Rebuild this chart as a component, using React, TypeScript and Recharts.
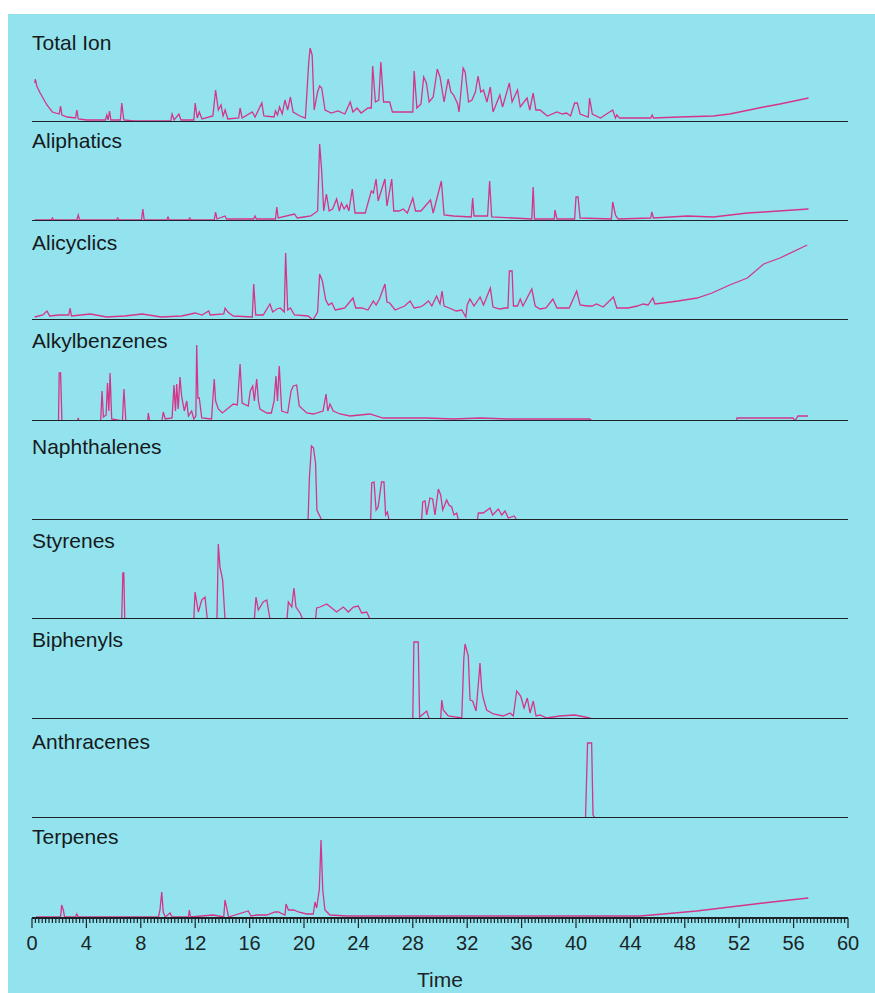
import { Line, LineChart, ReferenceLine, XAxis, YAxis } from "recharts";

// retention time (min), relative abundance
const totalIon: [number, number][] = [
  [0.2, 39], [0.25, 43], [0.35, 36], [0.6, 29], [1.1, 17], [1.5, 10], [2.0, 8], [2.1, 16], [2.2, 7], [2.6, 5], [3.2, 4], [3.3, 12], [3.4, 3],
  [4.0, 2], [5.4, 2], [5.5, 7], [5.6, 2], [5.7, 11], [5.8, 2], [6.5, 2], [6.6, 19], [6.75, 2], [7.5, 1], [10.2, 1], [10.3, 8], [10.45, 2],
  [10.8, 8], [10.95, 2], [11.9, 2], [12.0, 19], [12.15, 4], [12.3, 10], [12.5, 3], [13.3, 6], [13.5, 32], [13.7, 12], [13.9, 17], [14.05, 6],
  [14.2, 12], [14.4, 3], [15.2, 4], [15.3, 14], [15.45, 4], [16.2, 10], [16.4, 5], [16.9, 19], [17.05, 6], [17.8, 5], [17.9, 11], [18.05, 7],
  [18.2, 15], [18.4, 8], [18.6, 22], [18.8, 12], [19.0, 25], [19.2, 10], [19.7, 6], [20.1, 4], [20.35, 60], [20.45, 74], [20.6, 67], [20.75, 12],
  [21.0, 30], [21.15, 36], [21.3, 34], [21.55, 12], [22.0, 9], [22.5, 11], [23.0, 8], [23.4, 20], [23.6, 10], [23.9, 14], [24.2, 9], [24.7, 14],
  [24.95, 14], [25.05, 56], [25.25, 20], [25.5, 22], [25.65, 60], [25.85, 20], [26.3, 20], [26.5, 10], [27.4, 10], [28.0, 10], [28.1, 51],
  [28.3, 14], [28.6, 18], [28.8, 45], [29.0, 39], [29.2, 20], [29.5, 25], [29.8, 53], [30.0, 45], [30.3, 20], [30.6, 43], [30.8, 30], [31.0, 27],
  [31.3, 18], [31.4, 10], [31.7, 54], [31.85, 50], [32.1, 20], [32.35, 22], [32.6, 30], [32.8, 46], [33.0, 30], [33.2, 32], [33.45, 20],
  [33.7, 35], [33.9, 10], [34.4, 27], [34.6, 15], [35.1, 39], [35.3, 20], [35.7, 32], [35.9, 15], [36.4, 24], [36.6, 12], [36.85, 29],
  [37.05, 12], [37.35, 12], [37.9, 6], [38.6, 10], [39.0, 8], [39.3, 9], [39.6, 6], [39.9, 19], [40.1, 19], [40.3, 8], [40.9, 5], [41.0, 24],
  [41.2, 8], [41.8, 4], [42.7, 12], [42.9, 4], [43.0, 7], [43.2, 4], [45.5, 4], [45.6, 7], [45.7, 4], [47.6, 5], [50.1, 6], [51.3, 8],
  [53.8, 15], [55.0, 18], [57.1, 24],
];

const aliphatics: [number, number][] = [
  [0.2, 1], [1.4, 1], [1.5, 3], [1.6, 1], [3.3, 1], [3.4, 6], [3.5, 1], [6.2, 1], [6.3, 3], [6.4, 1], [8.05, 1], [8.15, 12], [8.25, 1],
  [9.9, 1], [10.0, 4], [10.1, 1], [11.5, 1], [11.6, 3], [11.7, 1], [13.4, 1], [13.5, 9], [13.6, 2], [14.2, 5], [14.3, 2], [16.3, 2], [16.4, 5],
  [16.5, 2], [17.9, 2], [18.0, 14], [18.1, 3], [19.3, 7], [19.5, 3], [20.0, 4], [20.5, 5], [21.0, 10], [21.15, 77], [21.3, 50], [21.45, 10],
  [21.65, 27], [21.85, 10], [22.1, 12], [22.4, 22], [22.6, 10], [22.75, 18], [22.95, 12], [23.15, 16], [23.3, 10], [23.55, 32], [23.75, 8],
  [24.1, 8], [24.5, 8], [24.95, 30], [25.1, 28], [25.3, 42], [25.45, 20], [25.95, 42], [26.1, 15], [26.45, 42], [26.6, 10], [27.0, 10],
  [27.3, 12], [27.6, 8], [28.0, 23], [28.2, 10], [28.6, 10], [29.3, 21], [29.5, 8], [30.1, 40], [30.3, 6], [31.0, 5], [32.3, 4], [32.4, 23],
  [32.5, 5], [33.5, 5], [33.65, 40], [33.8, 4], [35.4, 3], [36.75, 2], [36.85, 34], [36.95, 2], [38.4, 2], [38.45, 11], [38.6, 2], [39.9, 2],
  [40.0, 24], [40.15, 24], [40.3, 3], [42.6, 2], [42.7, 19], [42.9, 6], [43.1, 2], [45.5, 3], [45.57, 9], [45.7, 3], [48.2, 5], [50.1, 4],
  [52.6, 8], [53.8, 9], [57.1, 12],
];

const alicyclics: [number, number][] = [
  [0.2, 3], [0.8, 5], [1.1, 9], [1.3, 4], [2.0, 5], [2.7, 5], [2.8, 12], [2.9, 4], [4.3, 6], [5.5, 3], [6.8, 4], [8.1, 6], [9.5, 3], [11.0, 4],
  [12.0, 7], [12.5, 5], [13.0, 9], [13.1, 5], [14.1, 6], [14.2, 12], [14.4, 8], [14.8, 4], [16.2, 3], [16.3, 36], [16.45, 5], [17.0, 5],
  [17.5, 16], [17.7, 8], [18.0, 11], [18.25, 12], [18.55, 8], [18.65, 67], [18.8, 10], [19.0, 12], [19.3, 5], [20.3, 4], [20.66, 0], [21.0, 8],
  [21.15, 46], [21.35, 39], [21.6, 20], [21.8, 15], [22.05, 17], [22.3, 10], [22.65, 11], [23.0, 12], [23.6, 22], [23.8, 12], [24.25, 12],
  [24.7, 10], [25.1, 19], [25.3, 15], [25.55, 21], [25.95, 36], [26.1, 18], [26.3, 17], [26.7, 10], [27.05, 12], [27.4, 14], [27.8, 19],
  [28.1, 12], [28.55, 13], [28.8, 15], [29.15, 19], [29.4, 14], [29.75, 24], [30.0, 16], [30.15, 29], [30.3, 14], [30.5, 13], [31.2, 9],
  [31.6, 10], [31.9, 3], [32.0, 15], [32.2, 21], [32.5, 14], [32.95, 23], [33.2, 15], [33.7, 32], [33.9, 13], [34.4, 11], [34.8, 12], [35.0, 12],
  [35.1, 49], [35.3, 49], [35.4, 14], [35.7, 14], [35.9, 21], [36.1, 14], [36.75, 31], [37.0, 14], [37.35, 11], [37.8, 12], [38.3, 21],
  [38.6, 12], [39.1, 12], [39.5, 12], [40.05, 29], [40.3, 15], [40.8, 14], [41.2, 14], [41.5, 16], [42.0, 13], [42.75, 23], [43.0, 12],
  [43.85, 12], [44.5, 14], [44.95, 16], [45.3, 15], [45.65, 22], [45.8, 16], [46.4, 17], [47.5, 19], [48.9, 22], [50.0, 27], [51.3, 35],
  [52.6, 42], [53.8, 56], [55.0, 62], [57.0, 75],
];

const alkylbenzenes: [number, number][] = [
  [0, 0], [1.95, 0], [2.0, 48], [2.1, 48], [2.2, 0], [3.35, 0], [3.4, 3], [3.45, 0], [5.05, 0], [5.15, 30], [5.25, 4], [5.45, 6], [5.55, 38],
  [5.65, 10], [5.74, 48], [5.86, 2], [6.65, 0], [6.76, 32], [6.9, 0], [8.5, 0], [8.55, 8], [8.65, 0], [9.55, 0], [9.65, 9], [9.8, 2], [10.3, 3],
  [10.44, 36], [10.55, 10], [10.64, 37], [10.75, 12], [10.88, 44], [11.0, 25], [11.2, 10], [11.38, 20], [11.5, 5], [11.74, 10], [11.9, 2],
  [12.05, 5], [12.11, 76], [12.2, 23], [12.3, 23], [12.48, 3], [13.2, 2], [13.4, 42], [13.5, 20], [13.7, 12], [14.0, 8], [14.8, 17], [15.1, 16],
  [15.3, 57], [15.45, 18], [15.9, 15], [16.05, 30], [16.23, 35], [16.35, 20], [16.52, 42], [16.65, 20], [16.76, 12], [17.26, 8], [17.6, 8],
  [17.8, 20], [17.94, 45], [18.05, 20], [18.18, 55], [18.36, 10], [18.8, 8], [19.05, 30], [19.21, 35], [19.46, 36], [19.65, 15], [20.2, 8],
  [20.68, 7], [21.4, 10], [21.62, 27], [21.75, 10], [21.91, 17], [22.15, 10], [22.65, 7], [23.38, 5], [24.85, 7], [25.81, 3], [27.0, 3],
  [29.0, 3], [31.0, 2], [33.0, 3], [35.0, 2], [37.0, 2], [39.0, 2], [41.0, 2], [41.2, 0], [51.8, 0], [51.84, 3], [55.96, 3], [56.1, 0],
  [56.32, 5], [57.06, 5],
];

const naphthalenes: [number, number][] = [
  [0, 0], [20.3, 0], [20.4, 43], [20.55, 74], [20.7, 72], [20.85, 57], [20.95, 10], [21.3, 0], [24.9, 0], [24.98, 37], [25.15, 38],
  [25.3, 10], [25.45, 13], [25.7, 38], [25.88, 38], [26.0, 5], [26.13, 8], [26.25, 0], [28.65, 0], [28.73, 18], [28.9, 19], [29.02, 5],
  [29.26, 22], [29.46, 21], [29.63, 5], [29.88, 31], [30.05, 25], [30.2, 10], [30.49, 20], [30.66, 15], [30.86, 13], [31.03, 5], [31.23, 7],
  [31.35, 0], [32.75, 0], [32.82, 7], [33.18, 7], [33.68, 12], [33.87, 5], [34.29, 11], [34.54, 5], [34.78, 9], [35.02, 2], [35.46, 4],
  [35.64, 0], [36.0, 0],
];

const styrenes: [number, number][] = [
  [6.6, 0], [6.68, 46], [6.75, 46], [6.82, 0], [11.9, 0], [11.99, 27], [12.23, 7], [12.48, 19], [12.72, 22], [12.89, 0], [13.6, 0],
  [13.7, 75], [13.82, 52], [14.02, 39], [14.19, 0], [16.35, 0], [16.47, 22], [16.64, 9], [17.0, 17], [17.26, 19], [17.5, 0], [18.75, 0],
  [18.85, 17], [19.1, 12], [19.26, 31], [19.41, 12], [19.71, 6], [19.9, 0], [20.85, 0], [20.93, 11], [21.18, 12], [21.67, 15], [22.04, 11],
  [22.4, 7], [22.89, 12], [23.26, 7], [23.63, 12], [23.99, 13], [24.24, 6], [24.61, 7], [24.85, 0],
];

const biphenyls: [number, number][] = [
  [28.0, 0], [28.08, 77], [28.4, 77], [28.5, 2], [29.02, 8], [29.21, 0], [30.05, 0], [30.13, 19], [30.24, 9], [30.61, 3], [31.6, 1],
  [31.75, 60], [31.84, 75], [32.08, 63], [32.21, 19], [32.4, 18], [32.65, 8], [32.85, 40], [32.94, 56], [33.07, 29], [33.18, 21], [33.43, 9],
  [33.92, 5], [34.65, 3], [35.15, 6], [35.39, 3], [35.64, 28], [35.93, 23], [36.18, 11], [36.42, 21], [36.62, 6], [36.86, 18], [37.06, 3],
  [37.35, 4], [37.85, 1], [38.8, 3], [39.9, 4], [40.3, 3], [41.0, 1], [41.2, 0],
];

const anthracenes: [number, number][] = [
  [40.7, 0], [40.85, 75], [41.15, 75], [41.25, 3], [41.4, 0],
];

const terpenes: [number, number][] = [
  [0.3, 1], [2.1, 1], [2.18, 13], [2.3, 8], [2.4, 1], [3.2, 1], [3.29, 4], [3.4, 1], [9.3, 1], [9.41, 8], [9.54, 26], [9.65, 6], [9.8, 1],
  [10.15, 5], [10.3, 1], [11.5, 1], [11.57, 8], [11.65, 1], [13.33, 3], [14.1, 1], [14.19, 18], [14.32, 10], [14.45, 1], [15.9, 7], [16.1, 2],
  [16.52, 3], [17.26, 3], [17.87, 6], [18.11, 6], [18.6, 3], [18.68, 14], [18.85, 8], [19.26, 8], [19.58, 6], [20.2, 4], [20.68, 4],
  [20.81, 16], [20.93, 10], [21.13, 29], [21.25, 78], [21.38, 28], [21.54, 8], [21.91, 3], [23.14, 2], [24.61, 2], [27.0, 2], [30.0, 2],
  [32.45, 2], [35.0, 2], [40.0, 2], [44.71, 2], [46.42, 4], [48.87, 7], [51.32, 11], [53.77, 15], [55.74, 18], [57.08, 20],
];

const panelNames = ["Total Ion", "Aliphatics", "Alicyclics", "Alkylbenzenes", "Naphthalenes", "Styrenes", "Biphenyls", "Anthracenes", "Terpenes"];
const panelData = [totalIon, aliphatics, alicyclics, alkylbenzenes, naphthalenes, styrenes, biphenyls, anthracenes, terpenes];
const timeLabels = [0, 4, 8, 12, 16, 20, 24, 28, 32, 36, 40, 44, 48, 52, 56, 60];

// layout
const BASE_Y = [122, 221, 319.5, 421, 520, 619, 719, 818, 918];
const LABEL_Y = [50, 148, 250, 348, 454, 548, 647, 749, 844];
const PLOT_H = 90;
const TOP = 10;
const AXIS_H = 75;
const PINK = "#d4358a";
const INK = "#1b2427";
const FONT = "'Liberation Sans', Arial, Helvetica, sans-serif";
const minorTicks = Array.from({ length: 241 }, (_, i) => i / 4);

function TimeTick(props: any) {
  const { x, y, payload } = props;
  const v = payload.value as number;
  const major = timeLabels.includes(v);
  return (
    <g>
      <line x1={x} x2={x} y1={y} y2={y + (major ? 10 : 5)} stroke={INK} strokeWidth={1.2} />
      {major && (
        <text x={x} y={y + 32} textAnchor="middle" fontSize={20} fill={INK} fontFamily={FONT}>{v}</text>
      )}
    </g>
  );
}

function Panel({ idx }: { idx: number }) {
  const last = idx === panelData.length - 1;
  const rows = panelData[idx].map(([t, v]) => ({ t, v }));
  const h = TOP + PLOT_H + (last ? AXIS_H : 0);
  return (
    <div style={{ position: "absolute", left: 0, top: BASE_Y[idx] - PLOT_H - TOP }}>
      <LineChart width={875} height={h} data={rows} margin={{ top: TOP, right: 27, bottom: 0, left: 32 }}>
        <XAxis
          type="number" dataKey="t" domain={[0, 60]} hide={!last}
          ticks={minorTicks} interval={0} tickSize={0} tickMargin={0} tickLine={false}
          axisLine={{ stroke: INK, strokeWidth: 2 }} tick={TimeTick} height={AXIS_H}
          label={{ value: "Time", position: "insideBottom", offset: 6, fontSize: 21, fill: INK, fontFamily: FONT }}
        />
        <YAxis hide type="number" domain={[0, PLOT_H]} />
        <Line type="linear" dataKey="v" stroke={PINK} strokeWidth={1.3} dot={false} isAnimationActive={false} />
        {!last && <ReferenceLine y={0} stroke={INK} strokeWidth={2} />}
      </LineChart>
    </div>
  );
}

export default function App() {
  return (
    <div style={{ position: "absolute", left: 0, top: 0, width: 875, height: 993, background: "#fff", fontFamily: FONT, overflow: "hidden" }}>
      <div style={{ position: "absolute", left: 8, top: 14, width: 867, height: 979, background: "#93e3ee" }} />
      {panelNames.map((name, i) => (
        <div key={name} style={{ position: "absolute", left: 32, top: LABEL_Y[i] - 17.8, fontSize: 21, lineHeight: "21px", color: "#151a1c", whiteSpace: "nowrap" }}>
          {name}
        </div>
      ))}
      {panelNames.map((name, i) => <Panel key={name} idx={i} />)}
    </div>
  );
}
